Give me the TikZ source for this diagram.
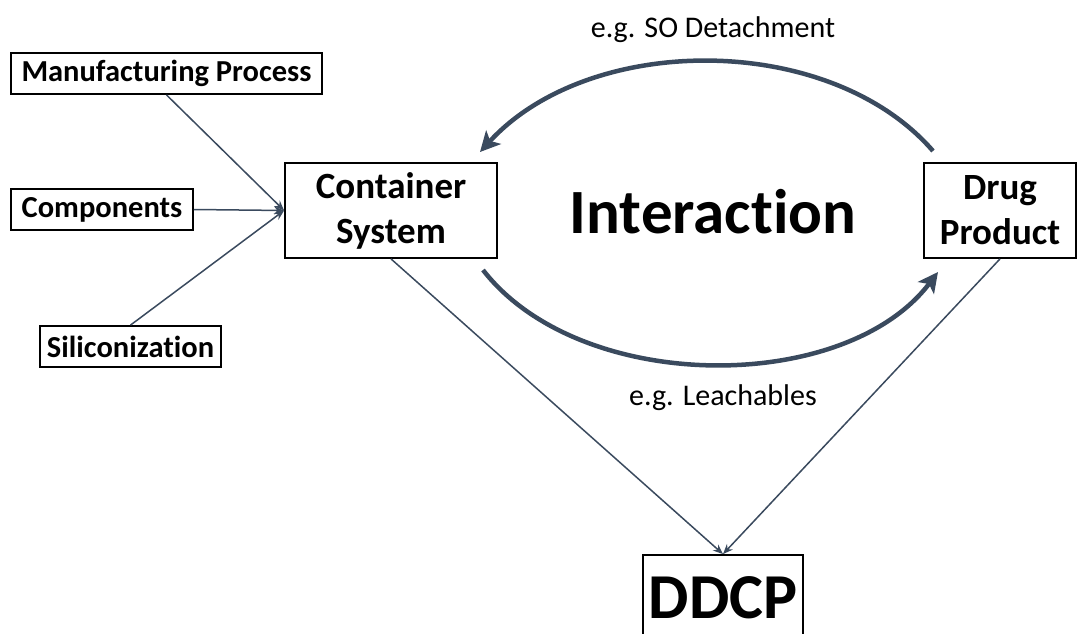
\documentclass[tikz,border=0pt]{standalone}
\usepackage{fontspec}
\setmainfont{Carlito}[Ligatures=NoCommon]
\usetikzlibrary{arrows.meta}
\definecolor{arr}{HTML}{3A4A5E}
\tikzset{
  box/.style={draw=black, line width=1.8pt, inner sep=0pt, align=center, font=\bfseries\fontsize{30.5}{30.5}\selectfont},
  bigbox/.style={box, font=\bfseries\fontsize{37}{45}\selectfont},
  thin/.style={draw=arr, line width=1.5pt, -{Stealth[length=10pt,width=8pt]}},
  thick/.style={draw=arr, line width=4.5pt, -{Stealth[length=20pt,width=20pt,inset=5pt]}},
  lbl/.style={font=\fontsize{30}{30}\selectfont, inner sep=0pt}
}
\begin{document}
\begin{tikzpicture}[x=1pt,y=-1pt]
\useasboundingbox (0,0) rectangle (1077,634);
\clip (0,0) rectangle (1077,634);
\node[box, minimum width=311pt, minimum height=41pt] (mp) at (166.5,73.5) {Manufacturing Process};
\node[box, minimum width=182pt, minimum height=41pt] (comp) at (102,209.5) {Components};
\node[box, minimum width=181pt, minimum height=41pt] (sil) at (130.5,346.5) {Siliconization};
\node[bigbox, minimum width=212pt, minimum height=95pt] (cs) at (391,210.5) {Container\\System};
\node[bigbox, minimum width=152pt, minimum height=95pt] (dp) at (1000,210.5) {Drug\\Product};
\node[box, minimum width=160pt, minimum height=86pt, font=\bfseries\fontsize{64}{70}\selectfont] (dd) at (723,598) {DDCP};
\node[font=\bfseries\fontsize{63}{70}\selectfont, inner sep=0pt] (int) at (713,212) {Interaction};
\node[lbl] (so) at (713,30) {e.g. SO Detachment};
\node[lbl] (le) at (723,398) {e.g. Leachables};
\draw[thin] (mp.south) -- (cs.west);
\draw[thin] (comp.east) -- (cs.west);
\draw[thin] (sil.north) -- (cs.west);
\draw[thin] (cs.south) -- (dd.north);
\draw[thin] (dp.south) -- (dd.north);
\coordinate (t1) at (933,151);
\coordinate (t2) at (480,152);
\coordinate (b1) at (483,270);
\coordinate (b2) at (938,272);
\draw[thick] (t1) .. controls (830,32) and (590,32) .. (t2);
\draw[thick] (b1) .. controls (580,395) and (845,395) .. (b2);
\end{tikzpicture}
\end{document}
